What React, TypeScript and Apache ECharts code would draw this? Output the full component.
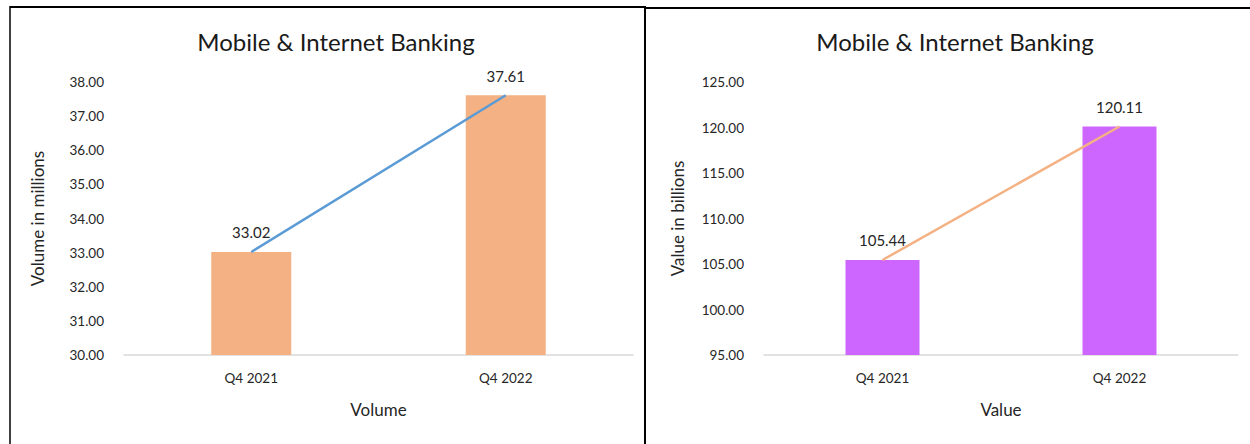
import React, { useEffect, useRef } from "react";
import * as echarts from "echarts";

const categories = ["Q4 2021", "Q4 2022"];
const volumeValues = [33.02, 37.61];
const valueValues = [105.44, 120.11];
const volumeAxis = { min: 30, max: 38, interval: 1 };
const valueAxis = { min: 95, max: 125, interval: 5 };

const FONT = "Lato, 'Open Sans', sans-serif";
const TXT = "#262626";

export default function App() {
  const ref = useRef<HTMLDivElement>(null);
  useEffect(() => {
    if (!ref.current) return;
    const chart = echarts.init(ref.current, undefined, { renderer: "svg" });
    const yAxisCommon = (a: any, name: string, gi: number) => ({
      type: "value",
      gridIndex: gi,
      min: a.min,
      max: a.max,
      interval: a.interval,
      name,
      nameLocation: "middle",
      nameGap: 78,
      nameTextStyle: { fontFamily: FONT, fontSize: 17, color: TXT },
      axisLine: { show: false },
      axisTick: { show: false },
      splitLine: { show: false },
      axisLabel: {
        fontFamily: FONT,
        fontSize: 13.5,
        color: TXT,
        margin: 20,
        formatter: (v: number) => v.toFixed(2),
      },
    });
    const xAxisCommon = (name: string, gi: number) => ({
      type: "category",
      gridIndex: gi,
      data: categories,
      name,
      nameLocation: "middle",
      nameGap: 46,
      nameTextStyle: { fontFamily: FONT, fontSize: 17, color: TXT },
      axisLine: { lineStyle: { color: "#D9D9D9", width: 1.5 } },
      axisTick: { show: false },
      axisLabel: { fontFamily: FONT, fontSize: 13.5, color: TXT, margin: 16 },
    });
    const barLabel = {
      show: true,
      position: "top",
      distance: 12,
      fontFamily: FONT,
      fontSize: 15,
      color: TXT,
      formatter: (p: any) => Number(p.value).toFixed(2),
    };
    const titleStyle = { fontFamily: FONT, fontSize: 24, fontWeight: "normal", color: "#1a1a1a" };
    chart.setOption({
      animation: false,
      title: [
        { text: "Mobile & Internet Banking", left: 331, top: 24, textAlign: "center", textStyle: titleStyle },
        { text: "Mobile & Internet Banking", left: 950, top: 24, textAlign: "center", textStyle: titleStyle },
      ],
      grid: [
        { left: 124, right: 617, top: 82, bottom: 89 },
        { left: 764, right: 12, top: 82, bottom: 89 },
      ],
      xAxis: [xAxisCommon("Volume", 0), xAxisCommon("Value", 1)],
      yAxis: [
        yAxisCommon(volumeAxis, "Volume in millions", 0),
        yAxisCommon(valueAxis, "Value in billions", 1),
      ],
      series: [
        {
          type: "bar",
          xAxisIndex: 0,
          yAxisIndex: 0,
          data: volumeValues,
          barWidth: 80,
          itemStyle: { color: "#F4B183" },
          label: barLabel,
        },
        {
          type: "line",
          xAxisIndex: 0,
          yAxisIndex: 0,
          data: volumeValues,
          showSymbol: false,
          symbol: "none",
          lineStyle: { color: "#5B9BD5", width: 2.5 },
        },
        {
          type: "bar",
          xAxisIndex: 1,
          yAxisIndex: 1,
          data: valueValues,
          barWidth: 74,
          itemStyle: { color: "#CC66FF" },
          label: barLabel,
        },
        {
          type: "line",
          xAxisIndex: 1,
          yAxisIndex: 1,
          data: valueValues,
          showSymbol: false,
          symbol: "none",
          lineStyle: { color: "#F4B183", width: 2.5 },
        },
      ],
      graphic: [
        { type: "line", shape: { x1: 10, y1: 7, x2: 645, y2: 7 }, style: { stroke: "#000", lineWidth: 2 } },
        { type: "line", shape: { x1: 10, y1: 6, x2: 10, y2: 444 }, style: { stroke: "#000", lineWidth: 1.5 } },
        { type: "line", shape: { x1: 645, y1: 6, x2: 645, y2: 444 }, style: { stroke: "#000", lineWidth: 2 } },
        { type: "line", shape: { x1: 645, y1: 8, x2: 1250, y2: 8 }, style: { stroke: "#000", lineWidth: 2 } },
      ],
    });
    return () => chart.dispose();
  }, []);
  return (
    <div
      ref={ref}
      style={{ position: "absolute", left: 0, top: 0, width: 1250, height: 444, background: "#fff" }}
    />
  );
}
